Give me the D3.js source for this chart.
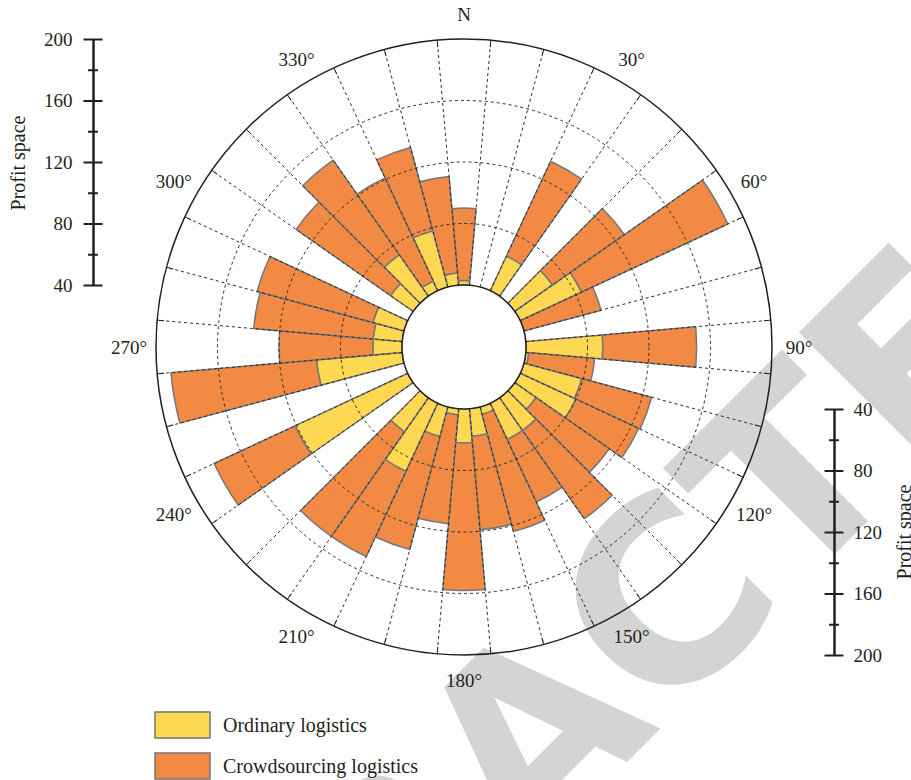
<!DOCTYPE html>
<html>
<head>
<meta charset="utf-8">
<script src="https://cdn.jsdelivr.net/npm/d3@7"></script>
<style>
  body { margin: 0; background: #fff; }
  svg text { font-family: "Liberation Serif", "Times New Roman", serif; fill: #231f20; }
</style>
</head>
<body>
<div id="chart"></div>
<script>
// Sector centres, degrees clockwise from north (10 degree sectors)
var directions = d3.range(0, 360, 10);

// Profit space above the 40 baseline
var ordinary = [3, 0, 0, 25, 0, 30, 44, 0, 0, 50,
                2, 39, 40, 17, 26, 26, 5, 18, 22, 4,
                20, 49, 27, 0, 81, 0, 56, 19, 19, 21,
                0, 18, 33, 7, 38, 8];
var crowdsourcing = [47, 0, 0, 68, 0, 57, 105, 52, 0, 61,
                     43, 47, 45, 58, 70, 45, 79, 61, 96, 71,
                     76, 61, 83, 0, 58, 0, 95, 61, 78, 78,
                     0, 75, 75, 74, 56, 63];

var seriesNames = ["Ordinary logistics", "Crowdsourcing logistics"];
var angleLabels = ["N", "30°", "60°", "90°", "120°", "150°", "180°", "210°", "240°", "270°", "300°", "330°"];
var majorTicks = [40, 80, 120, 160, 200];
var minorTicks = [60, 100, 140, 180];
var gridValues = [80, 120, 160];

var colors = ["#fed850", "#f38a44"];

var width = 911, height = 780;
var cx = 464, cy = 347;
var innerR = 62, outerR = 308;

var svg = d3.select("#chart")
    .append("svg")
    .attr("width", width)
    .attr("height", height);

// Watermark behind everything
svg.append("text")
    .attr("transform", "translate(595,794) rotate(-45)")
    .attr("text-anchor", "middle")
    .style("font-family", "'DejaVu Sans', sans-serif")
    .style("font-weight", "bold")
    .style("font-size", "250px")
    .style("fill", "#d4d4d4")
    .text("RETRACTED");

var r = d3.scaleLinear().domain([40, 200]).range([innerR, outerR]);

var rows = directions.map(function(d, i) {
    return { dir: d, ordinary: ordinary[i], crowd: crowdsourcing[i] };
});
var stacked = d3.stack().keys(["ordinary", "crowd"])(rows);

var g = svg.append("g")
    .attr("transform", "translate(" + cx + "," + cy + ")");

var rad = Math.PI / 180;
var arc = d3.arc()
    .innerRadius(function(d) { return r(40 + d[0]); })
    .outerRadius(function(d) { return r(40 + d[1]); })
    .startAngle(function(d) { return (d.data.dir - 5) * rad; })
    .endAngle(function(d) { return (d.data.dir + 5) * rad; });

// Bars
g.selectAll(".layer")
    .data(stacked)
    .enter().append("g")
    .attr("class", "layer")
    .attr("fill", function(d, i) { return colors[i]; })
    .selectAll("path")
    .data(function(d) { return d.filter(function(s) { return s[1] > s[0]; }); })
    .enter().append("path")
    .attr("d", arc)
    .attr("stroke", "#767676")
    .attr("stroke-width", 1.5)
    .attr("stroke-linejoin", "round");

// Dashed rings
g.selectAll(".ring")
    .data(gridValues)
    .enter().append("circle")
    .attr("r", function(d) { return r(d); })
    .attr("fill", "none")
    .attr("stroke", "#2b2b2b")
    .attr("stroke-width", 1)
    .attr("stroke-dasharray", "3,3");

// Dashed spokes on sector boundaries
var bounds = directions.map(function(d) { return d + 5; });
g.selectAll(".spoke")
    .data(bounds)
    .enter().append("line")
    .attr("x1", function(d) { return innerR * Math.sin(d * rad); })
    .attr("y1", function(d) { return -innerR * Math.cos(d * rad); })
    .attr("x2", function(d) { return outerR * Math.sin(d * rad); })
    .attr("y2", function(d) { return -outerR * Math.cos(d * rad); })
    .attr("stroke", "#2b2b2b")
    .attr("stroke-width", 1)
    .attr("stroke-dasharray", "3,3");

// Short solid ticks where spokes meet the rim
g.selectAll(".rimtick")
    .data(bounds)
    .enter().append("line")
    .attr("x1", function(d) { return (outerR - 7) * Math.sin(d * rad); })
    .attr("y1", function(d) { return -(outerR - 7) * Math.cos(d * rad); })
    .attr("x2", function(d) { return outerR * Math.sin(d * rad); })
    .attr("y2", function(d) { return -outerR * Math.cos(d * rad); })
    .attr("stroke", "#231f20")
    .attr("stroke-width", 1);

// Rim and hole
g.append("circle")
    .attr("r", outerR)
    .attr("fill", "none")
    .attr("stroke", "#231f20")
    .attr("stroke-width", 1.5);

g.append("circle")
    .attr("r", innerR)
    .attr("fill", "white")
    .attr("stroke", "#231f20")
    .attr("stroke-width", 1.5);

// Direction labels
g.selectAll(".dirlabel")
    .data(angleLabels)
    .enter().append("text")
    .attr("x", function(d, i) { return 335 * Math.sin(i * 30 * rad); })
    .attr("y", function(d, i) { return -333 * Math.cos(i * 30 * rad); })
    .attr("text-anchor", "middle")
    .attr("dy", "0.38em")
    .style("font-size", "19px")
    .text(function(d) { return d; });

// Radial scale drawn as straight axes above and below the hole
var yLeft = d3.scaleLinear().domain([40, 200]).range([cy - innerR, cy - outerR]);
var yRight = d3.scaleLinear().domain([40, 200]).range([cy + innerR, cy + outerR]);

function styleAxis(sel, major, side) {
    sel.attr("font-family", null).attr("font-size", null);
    sel.select(".domain").attr("stroke", "#231f20").attr("stroke-width", 2);
    sel.selectAll(".tick line")
        .attr("stroke", "#231f20")
        .attr("stroke-width", 2)
        .attr("x1", major ? -side * 9.5 : -side * 5);
    sel.selectAll(".tick text").style("font-size", "19px");
}

var leftMajor = svg.append("g")
    .attr("transform", "translate(93,0)")
    .call(d3.axisLeft(yLeft).tickValues(majorTicks).tickSize(9.5).tickSizeOuter(0).tickPadding(11).tickFormat(d3.format("d")));
styleAxis(leftMajor, true, -1);
var leftMinor = svg.append("g")
    .attr("transform", "translate(93,0)")
    .call(d3.axisLeft(yLeft).tickValues(minorTicks).tickSize(5).tickSizeOuter(0).tickFormat(""));
styleAxis(leftMinor, false, -1);

var rightMajor = svg.append("g")
    .attr("transform", "translate(834,0)")
    .call(d3.axisRight(yRight).tickValues(majorTicks).tickSize(9.5).tickSizeOuter(0).tickPadding(10).tickFormat(d3.format("d")));
styleAxis(rightMajor, true, 1);
var rightMinor = svg.append("g")
    .attr("transform", "translate(834,0)")
    .call(d3.axisRight(yRight).tickValues(minorTicks).tickSize(5).tickSizeOuter(0).tickFormat(""));
styleAxis(rightMinor, false, 1);

svg.append("text")
    .attr("transform", "translate(18,163) rotate(-90)")
    .attr("text-anchor", "middle")
    .attr("dy", "0.35em")
    .style("font-size", "20px")
    .text("Profit space");

svg.append("text")
    .attr("transform", "translate(904,532) rotate(-90)")
    .attr("text-anchor", "middle")
    .attr("dy", "0.35em")
    .style("font-size", "20px")
    .text("Profit space");

// Legend
var legend = svg.selectAll(".legend")
    .data(seriesNames)
    .enter().append("g")
    .attr("class", "legend")
    .attr("transform", function(d, i) { return "translate(155," + (712 + i * 41) + ")"; });

legend.append("rect")
    .attr("width", 55)
    .attr("height", 26)
    .attr("fill", function(d, i) { return colors[i]; })
    .attr("stroke", "#767676")
    .attr("stroke-width", 1.5);

legend.append("text")
    .attr("x", 68)
    .attr("y", 13)
    .attr("dy", "0.35em")
    .style("font-size", "20px")
    .text(function(d) { return d; });
</script>
</body>
</html>
